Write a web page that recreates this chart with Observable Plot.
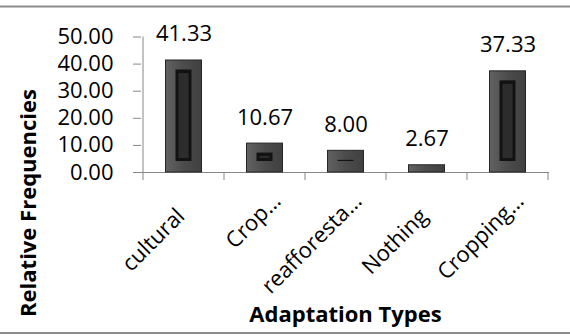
<!DOCTYPE html>
<html>
<head>
<meta charset="utf-8">
<script src="https://cdn.jsdelivr.net/npm/d3@7"></script>
<script src="https://cdn.jsdelivr.net/npm/@observablehq/plot@0.6"></script>
<style>
  html, body { margin: 0; padding: 0; background: #fff; }
  svg { display: block; }
</style>
</head>
<body>
<div id="chart"></div>
<script>
// Relative frequency (%) of each adaptation type
const categories = ["cultural", "Crop…", "reafforesta…", "Nothing", "Cropping…"];
const frequencies = [41.33, 10.67, 8.00, 2.67, 37.33];
const yTicks = [0, 10, 20, 30, 40, 50];
const xTitle = "Adaptation Types";
const yTitle = "Relative Frequencies";

const rows = categories.map((category, i) => ({category, value: frequencies[i]}));
const isTruncated = (c) => c.endsWith("…");

const font = "'Open Sans', 'DejaVu Sans', sans-serif";
const axisGray = "#868686";

// Chart border rules, the y axis line, the category boundary ticks
// and the gradient used for the bevelled bar frames.
function chrome(index, scales, values, dims) {
  const {x, y} = scales;
  const {width} = dims;
  const g = d3.create("svg:g").attr("stroke", axisGray).attr("fill", "none");
  const grad = g.append("defs").append("linearGradient")
    .attr("id", "bevel").attr("x1", 0).attr("y1", 0).attr("x2", 1).attr("y2", 0);
  grad.append("stop").attr("offset", "0%").attr("stop-color", "#626262");
  grad.append("stop").attr("offset", "50%").attr("stop-color", "#4c4c4c");
  grad.append("stop").attr("offset", "100%").attr("stop-color", "#404040");
  const bw = x.bandwidth();
  const y0 = y(0);
  const edges = categories.map((c) => x(c)).concat(x(categories[categories.length - 1]) + bw);
  g.append("line").attr("x1", 0).attr("x2", width).attr("y1", 6.5).attr("y2", 6.5)
    .attr("stroke", "#8c8c8c").attr("stroke-width", 2);
  g.append("line").attr("x1", 0).attr("x2", width).attr("y1", 333).attr("y2", 333)
    .attr("stroke", "#8c8c8c").attr("stroke-width", 2);
  g.append("line").attr("x1", edges[0]).attr("x2", edges[0])
    .attr("y1", y(yTicks[yTicks.length - 1])).attr("y2", y0);
  for (const ex of edges) {
    g.append("line").attr("x1", ex).attr("x2", ex).attr("y1", y0).attr("y2", y0 + 8);
  }
  return g.node();
}

// Axis titles placed relative to the whole chart.
function titles(index, scales, values, dims) {
  const {x} = scales;
  const g = d3.create("svg:g")
    .attr("font-family", font).attr("font-weight", "bold").attr("fill", "black")
    .attr("font-size", 22);
  const cx = x(categories[0]) + (x.bandwidth() * categories.length) / 2;
  g.append("text").attr("x", cx).attr("y", 322).attr("text-anchor", "middle").text(xTitle);
  g.append("text").attr("transform", "translate(36,203) rotate(-90)")
    .attr("text-anchor", "middle").text(yTitle);
  return g.node();
}

const chart = Plot.plot({
  width: 570,
  height: 336,
  marginLeft: 141,
  marginRight: 21,
  marginTop: 36.5,
  marginBottom: 164,
  style: {fontFamily: font, fontSize: "22px", color: "black", background: "white"},
  x: {domain: categories, padding: 0, axis: null},
  y: {domain: [0, 50], axis: null},
  marks: [
    chrome,
    Plot.axisY({ticks: yTicks, tickFormat: d3.format(".2f"), tickSize: 8, tickPadding: 20,
      stroke: axisGray, fill: "black", fontSize: 22, label: null}),
    Plot.ruleY([0], {stroke: axisGray}),
    // bevelled bars: frame, dark inner panel, inner highlight
    Plot.barY(rows, {x: "category", y: "value", fill: "url(#bevel)", stroke: "#262626", strokeWidth: 1,
      insetLeft: 22.5, insetRight: 22.5}),
    Plot.barY(rows, {x: "category", y: "value", fill: "#121212",
      insetLeft: 32.5, insetRight: 32.5, insetTop: 9.5, insetBottom: 11}),
    Plot.barY(rows, {x: "category", y: "value", fill: "#2c2c2c",
      insetLeft: 35.5, insetRight: 35.5, insetTop: 13, insetBottom: 14}),
    Plot.text(rows, {x: "category", y: "value", text: (d) => d3.format(".2f")(d.value),
      dy: -19, lineAnchor: "bottom", fontSize: 22, fill: "black"}),
    Plot.text(rows.filter((d) => !isTruncated(d.category)), {x: "category", y: () => 0, text: "category",
      rotate: -45, textAnchor: "end", lineAnchor: "bottom", dx: 2, dy: 45, fontSize: 22, fill: "black"}),
    Plot.text(rows.filter((d) => isTruncated(d.category)), {x: "category", y: () => 0, text: "category",
      rotate: -45, textAnchor: "end", lineAnchor: "bottom", dx: 17, dy: 30, fontSize: 22, fill: "black"}),
    titles
  ]
});

document.getElementById("chart").appendChild(chart);
</script>
</body>
</html>
